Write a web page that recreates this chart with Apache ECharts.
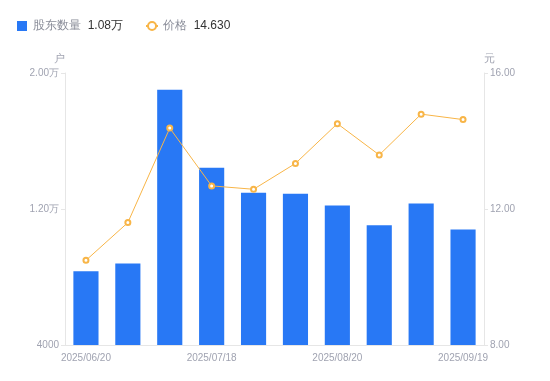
<!DOCTYPE html>
<html>
<head>
<meta charset="utf-8">
<script src="https://cdn.jsdelivr.net/npm/echarts@6/dist/echarts.min.js"></script>
<style>
html,body{margin:0;padding:0;background:#fff;}
#chart{width:550px;height:381px;}
</style>
</head>
<body>
<div id="chart"></div>
<script>
// 日期
var dates = ['2025/06/20', '2025/06/30', '2025/07/10', '2025/07/18', '2025/07/31',
	'2025/08/10', '2025/08/20', '2025/08/31', '2025/09/10', '2025/09/19'];
// 股东数量(户)
var holders = [8340, 8790, 19020, 14420, 12950, 12890, 12200, 11050, 12320, 10800];
// 价格(元)
var prices = [10.49, 11.60, 14.38, 12.68, 12.58, 13.34, 14.51, 13.59, 14.79, 14.63];

var labelColor = '#a0a3b1';
var lineColor = '#e6e6e6';

function fmtWan(v) {
	if (v >= 10000) return (v / 10000).toFixed(2) + '万';
	return v;
}

var chart = echarts.init(document.getElementById('chart'));
var option = {
	animation: false,
	legend: {
		left: 12,
		top: 15,
		itemWidth: 12,
		itemHeight: 10,
		itemGap: 22,
		data: [
			{ name: '股东数量', icon: 'path://M0,0h10v10h-10z' },
			{ name: '价格' }
		],
		formatter: function(name) {
			if (name == '股东数量') {
				return '{n|' + name + '}  {v|' + fmtWan(holders[holders.length - 1]) + '}';
			}
			return '{n|' + name + '}  {v|' + prices[prices.length - 1].toFixed(3) + '}';
		},
		textStyle: {
			rich: {
				n: { color: '#8a8d99', fontSize: 12 },
				v: { color: '#333', fontSize: 12 }
			}
		}
	},
	grid: { left: 65, right: 66, top: 73, bottom: 36 },
	xAxis: {
		type: 'category',
		data: dates,
		axisLine: { lineStyle: { color: lineColor } },
		axisTick: { show: false },
		axisLabel: { color: labelColor, fontSize: 10, interval: 2, margin: 8 }
	},
	yAxis: [{
		type: 'value',
		name: '户',
		nameGap: 9,
		nameTextStyle: { color: labelColor, fontSize: 11, align: 'right', padding: [0, 0, 0, 0] },
		min: 4000,
		max: 20000,
		interval: 8000,
		axisLine: { show: true, lineStyle: { color: lineColor } },
		axisTick: { show: true, length: 4, lineStyle: { color: lineColor } },
		splitLine: { show: false },
		axisLabel: { color: labelColor, fontSize: 10, formatter: fmtWan, margin: 6 }
	}, {
		type: 'value',
		name: '元',
		nameGap: 9,
		nameTextStyle: { color: labelColor, fontSize: 11, align: 'left', padding: [0, 0, 0, 0] },
		min: 8,
		max: 16,
		interval: 4,
		axisLine: { show: true, lineStyle: { color: lineColor } },
		axisTick: { show: true, length: 4, lineStyle: { color: lineColor } },
		splitLine: { show: false },
		axisLabel: { color: labelColor, fontSize: 10, margin: 6, formatter: function(v) { return v.toFixed(2); } }
	}],
	series: [{
		name: '股东数量',
		type: 'bar',
		data: holders,
		barWidth: '60%',
		itemStyle: { color: '#2878f5' }
	}, {
		name: '价格',
		type: 'line',
		yAxisIndex: 1,
		data: prices,
		symbol: 'emptyCircle',
		symbolSize: 5,
		lineStyle: { color: '#f8b547', width: 1 },
		itemStyle: { color: '#f8b547', borderWidth: 2 }
	}]
};
chart.setOption(option);
</script>
</body>
</html>
